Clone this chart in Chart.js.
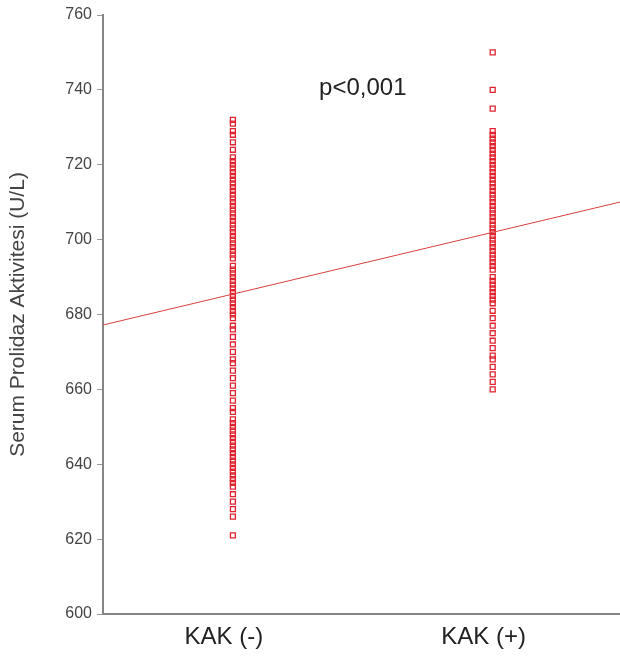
<!DOCTYPE html>
<html>
<head>
<meta charset="utf-8">
<script src="https://cdn.jsdelivr.net/npm/chart.js@4/dist/chart.umd.min.js"></script>
<style>
    html, body { margin: 0; padding: 0; background: #fff; overflow: hidden; }
    canvas { display: block; }
</style>
</head>
<body>
<canvas id="chart" width="620" height="657"></canvas>
<script>
// Group labels on the x axis
const groups = ['KAK (-)', 'KAK (+)'];

// Serum prolidase values (U/L)
const kakNegative = [
    732, 731, 729, 728, 726, 724, 722, 721, 720, 719, 718, 717, 716, 715, 714,
    713, 712, 711, 710, 709, 708, 707, 706, 705, 704, 703, 702, 701, 700, 699,
    698, 697, 696, 695, 693, 692, 691, 690, 689, 688, 687, 686, 685, 684, 683,
    682, 681, 680, 679, 677, 676, 674, 672, 670, 668, 667, 665, 663, 661, 659,
    657, 655, 654, 652, 651, 650, 649, 648, 647, 646, 645, 644, 643, 642, 641,
    640, 639, 638, 637, 636, 635, 634, 632, 630, 628, 626, 621
];
const kakPositive = [
    750, 740, 735, 729, 728, 727, 726, 725, 724, 723, 722, 721, 720, 719, 718,
    717, 716, 715, 714, 713, 712, 711, 710, 709, 708, 707, 706, 705, 704, 703,
    702, 701, 700, 699, 698, 697, 696, 695, 694, 693, 692, 690, 689, 688, 687,
    686, 685, 684, 683, 681, 679, 677, 675, 673, 671, 669, 668, 666, 664, 662,
    660
];

// Fit line end points (x position, value)
const fitX = [0.5, 2.5];
const fitY = [677.2, 710.2];

// Y axis ticks
const yTicks = [600, 620, 640, 660, 680, 700, 720, 740, 760];

const pText = 'p<0,001';
const pPos = { x: 1.5, y: 740.5 };

const red = '#e0232e';
const fontFamily = '"Liberation Sans", Arial, sans-serif';

const points = [];
kakNegative.forEach(v => points.push({ x: 1, y: v }));
kakPositive.forEach(v => points.push({ x: 2, y: v }));

// Draws the p value inside the plot
const pLabel = {
    id: 'pLabel',
    afterDatasetsDraw(chart) {
        const ctx = chart.ctx;
        const x = chart.scales.x.getPixelForValue(pPos.x);
        const y = chart.scales.y.getPixelForValue(pPos.y);
        ctx.save();
        ctx.font = '24px ' + fontFamily;
        ctx.fillStyle = '#222';
        ctx.textAlign = 'center';
        ctx.textBaseline = 'middle';
        ctx.fillText(pText, x, y);
        ctx.restore();
    }
};

new Chart(document.getElementById('chart'), {
    type: 'scatter',
    data: {
        datasets: [{
            data: points,
            pointStyle: 'rect',
            pointRadius: 3.5,
            pointBorderWidth: 1.3,
            pointBorderColor: red,
            pointBackgroundColor: 'rgba(255,255,255,0)',
            order: 2
        }, {
            type: 'line',
            data: fitX.map((x, i) => ({ x: x, y: fitY[i] })),
            borderColor: '#d8403f',
            borderWidth: 1,
            pointRadius: 0,
            fill: false,
            order: 1
        }]
    },
    options: {
        responsive: false,
        animation: false,
        layout: {
            autoPadding: false,
            padding: { top: 15, right: 0, left: 0, bottom: 0 }
        },
        plugins: {
            legend: { display: false },
            tooltip: { enabled: false }
        },
        scales: {
            x: {
                type: 'linear',
                min: 0.5,
                max: 2.49,
                afterBuildTicks: axis => {
                    axis.ticks = groups.map((g, i) => ({ value: i + 1 }));
                },
                afterFit: axis => {
                    axis.height = 43;
                    axis.paddingLeft = 0;
                    axis.paddingRight = 0;
                },
                ticks: {
                    callback: v => groups[v - 1],
                    color: '#222',
                    font: { size: 24, family: fontFamily },
                    padding: 1,
                    labelOffset: -9,
                    maxRotation: 0,
                    autoSkip: false
                },
                grid: { display: false },
                border: { display: true, color: '#858585', width: 2 }
            },
            y: {
                min: 600,
                max: 760,
                afterBuildTicks: axis => {
                    axis.ticks = yTicks.map(v => ({ value: v }));
                },
                afterFit: axis => { axis.width = 103; },
                ticks: {
                    color: '#444',
                    font: { size: 16, family: fontFamily },
                    padding: 5
                },
                grid: {
                    drawOnChartArea: false,
                    drawTicks: true,
                    tickLength: 6,
                    tickColor: '#999',
                    tickWidth: 1
                },
                border: { display: true, color: '#858585', width: 2 },
                title: {
                    display: true,
                    text: 'Serum Prolidaz Aktivitesi (U/L)',
                    color: '#444',
                    font: { size: 21, family: fontFamily },
                    padding: { top: 6, bottom: 0 }
                }
            }
        }
    },
    plugins: [pLabel]
});
</script>
</body>
</html>
